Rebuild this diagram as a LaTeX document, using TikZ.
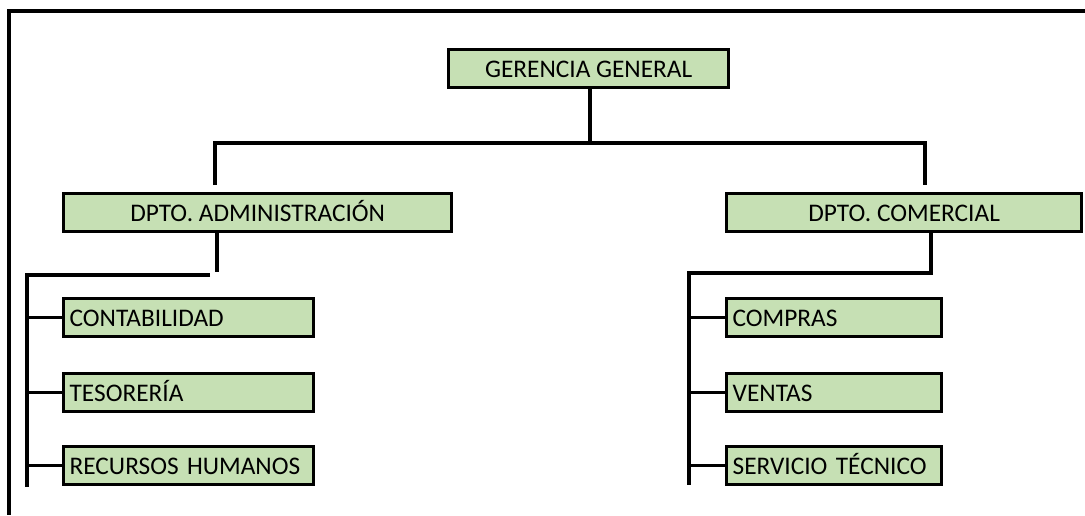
\documentclass[tikz,border=0pt]{standalone}
\usepackage{fontspec}
\setmainfont{Carlito}
\newlength\pxu
\setlength\pxu{0.75pt}
\definecolor{boxgreen}{HTML}{C6E0B4}
\tikzset{
  orgbox/.style={draw=black, fill=boxgreen, line width=3.3\pxu, anchor=north west,
    minimum height=38\pxu, inner sep=0pt, text height=13.5pt, text depth=0.5pt,
    font=\fontsize{19}{21}\selectfont},
  centerbox/.style={orgbox, align=center},
  leftbox/.style={orgbox, inner xsep=6\pxu, align=left},
  conn/.style={line width=3.3\pxu, line cap=butt},
  frame/.style={line width=4\pxu}
}
\begin{document}
\begin{tikzpicture}[x=0.75pt,y=-0.75pt]
\useasboundingbox (0,0) rectangle (1085,515);
% frame
\coordinate (fTL) at (8.5,10.5);
\coordinate (fTR) at (1085,10.5);
\coordinate (fBL) at (8.5,515);
\draw[frame] (fTR) -- (fTL) -- (fBL);
% boxes
\node[centerbox, minimum width=280\pxu] (gg) at (447,48) {GERENCIA GENERAL};
\node[centerbox, minimum width=388\pxu] (adm) at (62,192) {DPTO. ADMINISTRACIÓN};
\node[centerbox, minimum width=355\pxu] (com) at (725,192) {DPTO. COMERCIAL};
\node[leftbox, text width=238\pxu] (cont) at (62,297) {CONTABILIDAD};
\node[leftbox, text width=238\pxu] (tes) at (62,372) {TESORERÍA};
\node[leftbox, text width=238\pxu] (rh) at (62,445) {RECURSOS HUMANOS};
\node[leftbox, text width=203\pxu] (compras) at (725,297) {COMPRAS};
\node[leftbox, text width=203\pxu] (ventas) at (725,372) {VENTAS};
\node[leftbox, text width=203\pxu] (serv) at (725,445) {SERVICIO TÉCNICO};
% top level connectors
\coordinate (hub) at (590,143);
\coordinate (bl) at (215,143);
\coordinate (br) at (925,143);
\coordinate (la) at (215,185);
\coordinate (ra) at (925,185);
\draw[conn] (gg.south -| hub) -- (hub);
\draw[conn, line join=miter] (la) -- (bl) -- (br) -- (ra);
% administracion
\coordinate (admd) at (217,272);
\coordinate (admh) at (210,275);
\coordinate (lbusT) at (27,275);
\coordinate (lbusB) at (27,487);
\draw[conn] (adm.south -| admd) -- (admd);
\draw[conn] (admh) -- (lbusT) -- (lbusB);
\draw[conn] (cont.west -| lbusT) -- (cont.west);
\draw[conn] (tes.west -| lbusT) -- (tes.west);
\draw[conn] (rh.west -| lbusT) -- (rh.west);
% comercial
\coordinate (comd) at (931,273);
\coordinate (rbusT) at (689,273);
\coordinate (rbusB) at (689,485);
\draw[conn] (com.south -| comd) -- (comd) -- (rbusT) -- (rbusB);
\draw[conn] (compras.west -| rbusT) -- (compras.west);
\draw[conn] (ventas.west -| rbusT) -- (ventas.west);
\draw[conn] (serv.west -| rbusT) -- (serv.west);
\end{tikzpicture}
\end{document}
